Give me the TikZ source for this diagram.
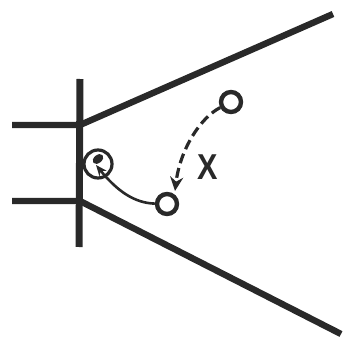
\documentclass[tikz,border=0pt]{standalone}
\usepackage{fontspec}
\setmainfont{Liberation Sans}
\usetikzlibrary{arrows.meta}
\definecolor{ink}{gray}{0.16}
\tikzset{wall/.style={line width=6.4pt,color=ink},ring/.style={circle,draw=ink,line width=4.4pt,inner sep=0pt,minimum size=20pt}}
\begin{document}
\begin{tikzpicture}[x=1pt,y=-1pt]
\useasboundingbox (0,0) rectangle (346,340);
\coordinate (a1) at (12,125);
\coordinate (a2) at (80,125);
\coordinate (a3) at (333,14);
\coordinate (b1) at (12,201);
\coordinate (b2) at (80,201);
\coordinate (b3) at (341,334);
\coordinate (t) at (80,79);
\coordinate (u) at (79,247);
\draw[wall] (a1)--(a2)--(a3);
\draw[wall] (b1)--(b2)--(b3);
\draw[line width=7pt,color=ink] (t)--(u);
\node[ring] (o1) at (231,102) {};
\node[ring] (o2) at (167,204) {};
\node[circle,draw=ink,line width=3.2pt,minimum size=28pt,inner sep=0pt] (o3) at (98,164) {};
\fill[ink,rotate around={40:(98,159)}] (98,159) ellipse (6pt and 4pt);
\coordinate (o3tip) at (96,165);
\draw[ink,line width=2.6pt,-{Stealth[length=11pt,width=9pt]}] (o2) .. controls (135,203) and (118,192) .. (o3tip);
\coordinate (o1end) at (175,191);
\draw[ink,line width=3.2pt,dash pattern=on 10pt off 5pt,-{Stealth[length=14pt,width=13pt]}] (o1) .. controls (200,118) and (180,150) .. (o1end);
\node[font=\bfseries\fontsize{36}{36}\selectfont,text=ink,xscale=.85] (x) at (208,167) {X};
\end{tikzpicture}
\end{document}
